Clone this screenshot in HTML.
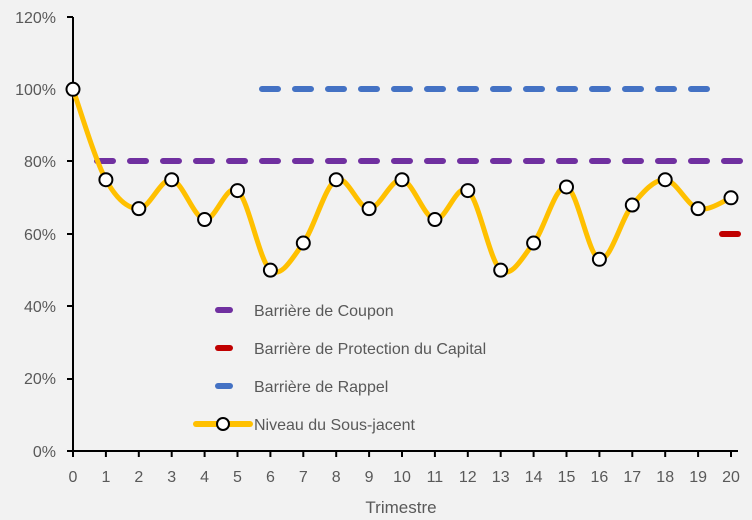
<!DOCTYPE html>
<html><head><meta charset="utf-8"><style>
html,body{margin:0;padding:0;background:#f2f2f2}
svg{display:block}
text{font-family:"Liberation Sans",sans-serif;fill:#595959;font-size:16px}
</style></head><body>
<svg width="752" height="520" viewBox="0 0 752 520">
<rect width="752" height="520" fill="#f2f2f2"/>
<g text-anchor="end">
<text x="56" y="23">120%</text>
<text x="56" y="95">100%</text>
<text x="56" y="167">80%</text>
<text x="56" y="240">60%</text>
<text x="56" y="312">40%</text>
<text x="56" y="384">20%</text>
<text x="56" y="457">0%</text>
</g>
<g stroke="#000" stroke-width="2">
<line x1="73" y1="17" x2="73" y2="452"/>
<line x1="67" y1="17" x2="73" y2="17"/>
<line x1="67" y1="89" x2="73" y2="89"/>
<line x1="67" y1="161" x2="73" y2="161"/>
<line x1="67" y1="234" x2="73" y2="234"/>
<line x1="67" y1="306" x2="73" y2="306"/>
<line x1="67" y1="379" x2="73" y2="379"/>
<line x1="67" y1="451" x2="738" y2="451"/>
</g>
<g id="ticks" stroke="#000" stroke-width="2"></g>
<g id="xl" text-anchor="middle"></g>
<text x="401" y="513" text-anchor="middle" style="font-size:17px">Trimestre</text>
<line x1="97" y1="161" x2="740" y2="161" stroke="#7030a0" stroke-width="6" stroke-dasharray="16 17" stroke-linecap="round"/>
<line x1="262" y1="89" x2="708" y2="89" stroke="#4472c4" stroke-width="6" stroke-dasharray="16 17" stroke-linecap="round"/>
<line x1="722" y1="234" x2="738" y2="234" stroke="#c00000" stroke-width="6" stroke-linecap="round"/>
<path id="curve" fill="none" stroke="#ffc000" stroke-width="5" stroke-linejoin="round"/>
<g id="pts"></g>
<line x1="218" y1="310" x2="230" y2="310" stroke="#7030a0" stroke-width="6" stroke-linecap="round"/>
<text x="254" y="316">Barrière de Coupon</text>
<line x1="218" y1="348" x2="230" y2="348" stroke="#c00000" stroke-width="6" stroke-linecap="round"/>
<text x="254" y="354">Barrière de Protection du Capital</text>
<line x1="218" y1="386" x2="230" y2="386" stroke="#4472c4" stroke-width="6" stroke-linecap="round"/>
<text x="254" y="392">Barrière de Rappel</text>
<line x1="196" y1="424" x2="250" y2="424" stroke="#ffc000" stroke-width="6" stroke-linecap="round"/>
<circle cx="223" cy="424" r="6" fill="#fff" stroke="#000" stroke-width="2"/>
<text x="254" y="430">Niveau du Sous-jacent</text>
</svg>
<script>
var d=[100,75,67,75,64,72,50,57.5,75,67,75,64,72,50,57.5,73,53,68,75,67,70];
var X=i=>73+i*32.9, Y=v=>451-v*3.617;
var ns="http://www.w3.org/2000/svg";
var t=document.getElementById('ticks'),xl=document.getElementById('xl'),pts=document.getElementById('pts');
var P=d.map((v,i)=>[X(i),Y(v)]);
for(var i=0;i<=20;i++){
 var l=document.createElementNS(ns,'line');l.setAttribute('x1',X(i));l.setAttribute('x2',X(i));l.setAttribute('y1',451);l.setAttribute('y2',457);t.appendChild(l);
 var tx=document.createElementNS(ns,'text');tx.setAttribute('x',X(i));tx.setAttribute('y',482);tx.textContent=i;xl.appendChild(tx);
}
var s="M"+P[0][0]+","+P[0][1];
for(var i=0;i<P.length-1;i++){
 var p0=P[Math.max(0,i-1)],p1=P[i],p2=P[i+1],p3=P[Math.min(P.length-1,i+2)];
 var c1=[p1[0]+(p2[0]-p0[0])/6,p1[1]+(p2[1]-p0[1])/6],c2=[p2[0]-(p3[0]-p1[0])/6,p2[1]-(p3[1]-p1[1])/6];
 s+=" C"+c1+" "+c2+" "+p2;
}
document.getElementById('curve').setAttribute('d',s);
P.forEach(p=>{var c=document.createElementNS(ns,'circle');c.setAttribute('cx',p[0]);c.setAttribute('cy',p[1]);c.setAttribute('r',6.5);c.setAttribute('fill','#fff');c.setAttribute('stroke','#000');c.setAttribute('stroke-width','2');pts.appendChild(c);});
</script>
</body></html>
